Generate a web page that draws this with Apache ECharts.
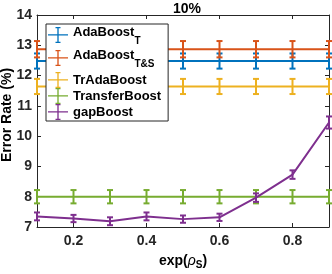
<!DOCTYPE html>
<html><head><meta charset="utf-8">
<script src="https://cdn.jsdelivr.net/npm/echarts@6/dist/echarts.min.js"></script>
<style>html,body{margin:0;padding:0;background:#fff}#c{width:332px;height:274px}</style>
</head><body><div id="c"></div>
<script>
const xValues = [0.1, 0.2, 0.3, 0.4, 0.5, 0.6, 0.7, 0.8, 0.9];
const seriesNames = ['AdaBoost_T', 'AdaBoost_T&S', 'TrAdaBoost', 'TransferBoost', 'gapBoost'];
const adaBoostT = [12.48, 12.48, 12.48, 12.48, 12.48, 12.48, 12.48, 12.48, 12.48];
const adaBoostTErr = [0.25, 0.25, 0.25, 0.25, 0.25, 0.25, 0.25, 0.25, 0.25];
const adaBoostTS = [12.87, 12.87, 12.87, 12.87, 12.87, 12.87, 12.87, 12.87, 12.87];
const adaBoostTSErr = [0.27, 0.27, 0.27, 0.27, 0.27, 0.27, 0.27, 0.27, 0.27];
const trAdaBoost = [11.64, 11.64, 11.64, 11.64, 11.64, 11.64, 11.64, 11.64, 11.64];
const trAdaBoostErr = [0.25, 0.25, 0.25, 0.25, 0.25, 0.25, 0.25, 0.25, 0.25];
const transferBoost = [8.0, 8.0, 8.0, 8.0, 8.0, 8.0, 8.0, 8.0, 8.0];
const transferBoostErr = [0.22, 0.22, 0.22, 0.22, 0.22, 0.22, 0.22, 0.22, 0.22];
const gapBoost = [7.35, 7.28, 7.19, 7.35, 7.26, 7.32, 7.97, 8.73, 10.45];
const gapBoostErr = [0.13, 0.12, 0.13, 0.13, 0.12, 0.12, 0.14, 0.14, 0.2];
const xTicks = [0.2, 0.4, 0.6, 0.8];
const yTicks = [7, 8, 9, 10, 11, 12, 13, 14];
const yAxisTitle = 'Error Rate (%)';

const colors = ['#0072BD', '#D95319', '#EDB120', '#77AC30', '#7E2F8E'];
const values = [adaBoostT, adaBoostTS, trAdaBoost, transferBoost, gapBoost];
const errs = [adaBoostTErr, adaBoostTSErr, trAdaBoostErr, transferBoostErr, gapBoostErr];

const FONT = 'Liberation Sans';
const AX = '#262626';

const series = [];
values.forEach((vals, i) => {
  series.push({
    name: seriesNames[i], type: 'line', color: colors[i],
    data: xValues.map((x, j) => [x, vals[j]]),
    symbol: 'none', lineStyle: { width: 2, color: colors[i] },
    z: 3 + i, clip: false
  });
  series.push({
    name: seriesNames[i] + '_err', type: 'custom', color: colors[i],
    data: xValues.map((x, j) => [x, vals[j], errs[i][j]]),
    clip: false, z: 3 + i,
    renderItem: function (params, api) {
      const x = api.value(0), y = api.value(1), e = api.value(2);
      const top = api.coord([x, y + e]);
      const bot = api.coord([x, y - e]);
      const w = 3;
      const st = { stroke: colors[i], lineWidth: 2, fill: null };
      return { type: 'group', children: [
        { type: 'line', shape: { x1: top[0], y1: top[1], x2: bot[0], y2: bot[1] }, style: st },
        { type: 'line', shape: { x1: top[0] - w, y1: top[1], x2: top[0] + w, y2: top[1] }, style: st },
        { type: 'line', shape: { x1: bot[0] - w, y1: bot[1], x2: bot[0] + w, y2: bot[1] }, style: st }
      ]};
    }
  });
});

const icon = 'path://M0,9h24v1.6h-24z M11.2,1h1.6v18h-1.6z M9,0h6v1.6h-6z M9,18.4h6v1.6h-6z';

const chart = echarts.init(document.getElementById('c'), null, { renderer: 'canvas' });
chart.setOption({
  animation: false,
  title: { text: '10%', left: 182, top: -3, textAlign: 'center',
    textStyle: { fontFamily: FONT, fontWeight: 'bold', fontSize: 14, color: '#000' } },
  grid: { left: 37, right: 3, top: 15, bottom: 47, show: false, outerBoundsMode: 'none', containLabel: false },
  graphic: [{
    type: 'text', x: 7, y: 115, rotation: Math.PI / 2, z: 10,
    style: { text: yAxisTitle, fontFamily: FONT, fontWeight: 'bold', fontSize: 14, fill: '#000',
      align: 'center', verticalAlign: 'middle' }
  }],
  legend: {
    orient: 'vertical', left: 46, top: 24, padding: [2, 7, 1, 2], itemGap: 0, z: 20,
    itemWidth: 20, itemHeight: 16, symbolKeepAspect: false,
    backgroundColor: '#fff', borderColor: AX, borderWidth: 1,
    data: seriesNames.map((n, i) => ({ name: n, icon: icon, itemStyle: { color: colors[i] } })),
    formatter: function (n) {
      if (n === 'AdaBoost_T') return '{m|AdaBoost}{s|T}';
      if (n === 'AdaBoost_T&S') return '{m|AdaBoost}{s|T&S}';
      return '{r|' + n + '}';
    },
    textStyle: {
      fontFamily: FONT, fontWeight: 'bold', fontSize: 13, color: '#000',
      rich: {
        m: { fontFamily: FONT, fontWeight: 'bold', fontSize: 13, color: '#000', lineHeight: 18, verticalAlign: 'top' },
        r: { fontFamily: FONT, fontWeight: 'bold', fontSize: 13, color: '#000', lineHeight: 16 },
        s: { fontFamily: FONT, fontWeight: 'bold', fontSize: 10, color: '#000', lineHeight: 10, padding: [10, 0, 3, 0], verticalAlign: 'top' }
      }
    }
  },
  xAxis: [{
    type: 'value', min: 0.1, max: 0.9, position: 'bottom',
    name: '{n|exp(}{r|ρ}{s|S}{n|)}', nameLocation: 'middle', nameGap: 25,
    nameTextStyle: { rich: {
      n: { fontFamily: FONT, fontWeight: 'bold', fontSize: 14, color: '#000' },
      r: { fontFamily: FONT, fontStyle: 'italic', fontSize: 14, color: '#000' },
      s: { fontFamily: FONT, fontWeight: 'bold', fontSize: 10, color: '#000', padding: [8, 0, 0, 0] }
    }},
    axisLine: { lineStyle: { color: AX, width: 1 } },
    axisTick: { inside: true, length: 4, customValues: xTicks, lineStyle: { color: AX } },
    axisLabel: { customValues: xTicks, fontFamily: FONT, fontWeight: 'bold', fontSize: 14, color: '#262626', margin: 7,
      formatter: v => v.toFixed(1) },
    splitLine: { show: false }
  }, {
    type: 'value', min: 0.1, max: 0.9, position: 'top',
    axisLine: { lineStyle: { color: AX, width: 1 } },
    axisTick: { inside: true, length: 4, customValues: xTicks, lineStyle: { color: AX } },
    axisLabel: { show: false }, splitLine: { show: false }
  }],
  yAxis: [{
    type: 'value', min: 7, max: 14, interval: 1, position: 'left',
    axisLine: { show: true, lineStyle: { color: AX, width: 1 } },
    axisTick: { show: true, inside: true, length: 4, lineStyle: { color: AX } },
    axisLabel: { fontFamily: FONT, fontWeight: 'bold', fontSize: 14, color: '#262626', margin: 5 },
    splitLine: { show: false }
  }, {
    type: 'value', min: 7, max: 14, interval: 1, position: 'right',
    axisLine: { show: true, lineStyle: { color: AX, width: 1 } },
    axisTick: { show: true, inside: true, length: 4, lineStyle: { color: AX } },
    axisLabel: { show: false }, splitLine: { show: false }
  }],
  series: series
});
</script></body></html>
